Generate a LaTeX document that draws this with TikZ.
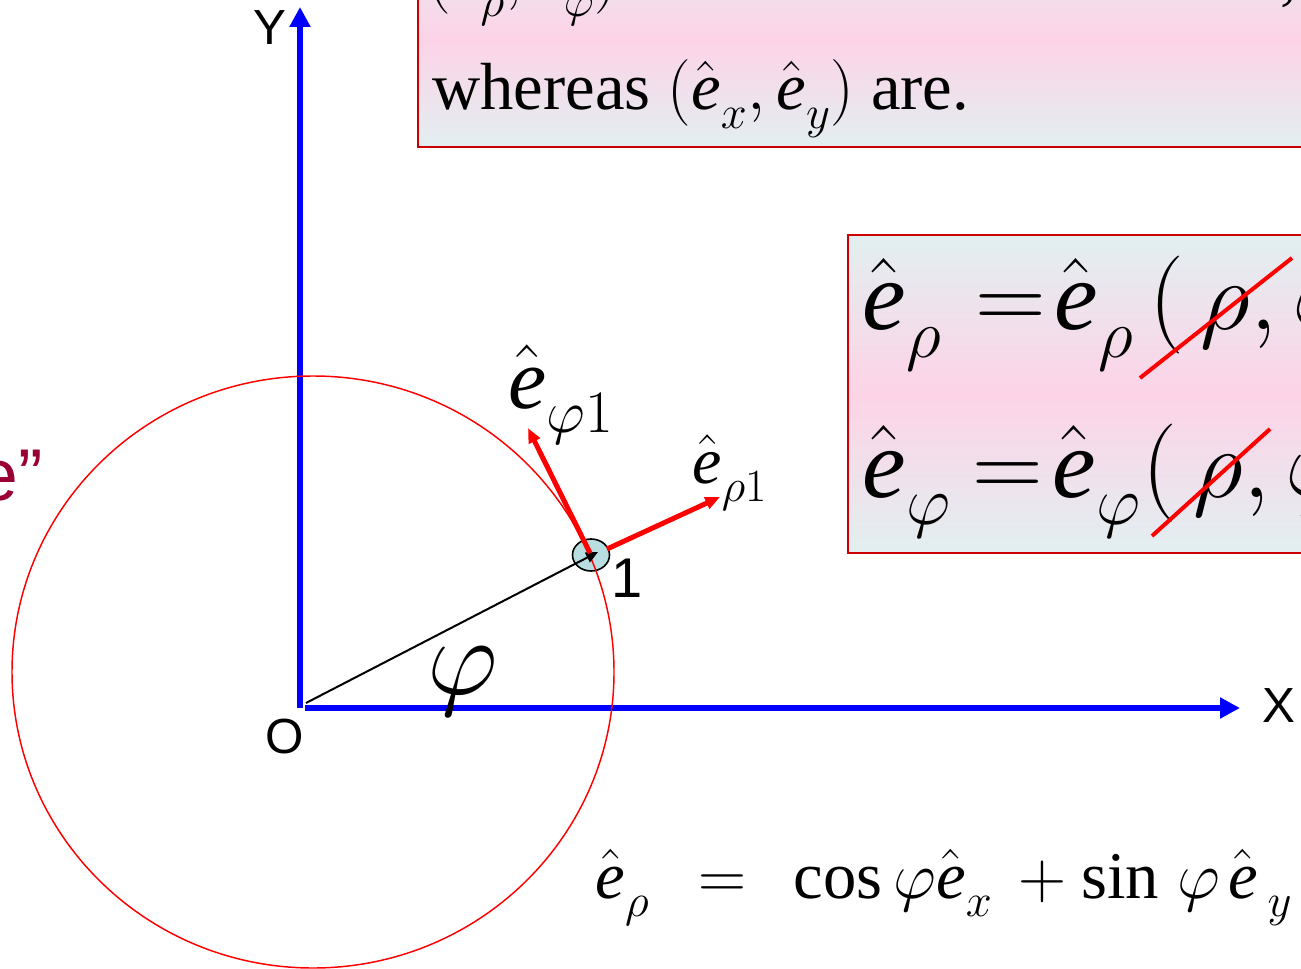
\RequirePackage{fix-cm}
\documentclass[tikz,border=0pt]{standalone}
\usepackage{fontspec}
\setmainfont{Liberation Serif}
\newfontfamily\arialfont{Liberation Sans}
\usetikzlibrary{arrows.meta,positioning}

\definecolor{boxcyan}{RGB}{226,239,241}
\definecolor{boxpink}{RGB}{253,211,231}
\definecolor{boxedge}{RGB}{204,0,0}
\definecolor{darkrose}{RGB}{153,0,51}
\definecolor{pointfill}{RGB}{185,222,226}
\newcommand{\ehat}{\hat{\mbox{\itshape e}}}
\newcommand{\esub}[1]{\ehat_{\lower0.13em\hbox{$\scriptstyle #1$}}}
\newcommand{\fixbox}[2]{\makebox[#1][l]{#2}}

\tikzset{every picture/.style={line width=0.75pt}}
\tikzset{
  axisline/.style={color=blue, line width=4.5pt, -{Triangle[length=15pt,width=15pt]}},
  unitvec/.style={color=red, line width=3.75pt, -{Triangle[length=11pt,width=9pt]}},
  slidebox/.style={draw=boxedge, line width=1.5pt, top color=boxcyan, bottom color=boxcyan, middle color=boxpink},
  strikeout/.style={color=red, line width=3pt},
  axlabel/.style={inner sep=0pt, font=\arialfont\fontsize{37}{40}\selectfont},
  bodytext/.style={inner sep=0pt, anchor=base west, font=\fontsize{50}{60}\selectfont},
  bigeq/.style={inner sep=0pt, anchor=base west, font=\fontsize{73.5}{88}\selectfont}
}

\begin{document}
\begin{tikzpicture}[x=0.75pt,y=0.75pt,yscale=-1,xscale=1]
\useasboundingbox (0,0) rectangle (1301,969);
\clip (0,0) rectangle (1301,969);

%Shape: Rectangle
\draw [slidebox] (418,-70) rectangle (1320,147);
%Shape: Rectangle
\draw [slidebox] (848,235) rectangle (1320,553);

% Text Node
\draw (427,-2) node (rowtop) [bodytext] {$(\esub{\rho},\esub{\varphi})$};
% Text Node
\draw (1280,-2) node (rowcomma) [bodytext] {,};
% Text Node
\draw (432,110) node (rowwhereas) [bodytext] {whereas $(\esub{x},\esub{y})$ are.};

% Text Node
\draw (862,330) node (eqrho) [bigeq] {\fixbox{84.75pt}{$\esub{\rho}$}\fixbox{59.25pt}{$=$}\fixbox{71.25pt}{$\esub{\rho}$}$(\,\rho,\varphi)$};
% Text Node
\draw (862,497) node (eqphi) [bigeq] {\fixbox{82.5pt}{$\esub{\varphi}$}\fixbox{60pt}{$=$}\fixbox{67.5pt}{$\esub{\varphi}$}$(\,\rho,\varphi)$};
%Straight Lines
\draw [strikeout] (1140,378) -- (1292,258) ;
%Straight Lines
\draw [strikeout] (1152,536) -- (1270,429) ;

% Text Node
\draw (595,898) node (eqdecomp) [bodytext] {\fixbox{77.25pt}{$\esub{\rho}$}\fixbox{71.25pt}{$=$}\fixbox{168.75pt}{$\cos\varphi\esub{x}$}\fixbox{47.25pt}{$+$}$\sin\mkern2mu\varphi\mkern2mu\ehat_{\kern0.15em\lower0.13em\hbox{$\scriptstyle y$}}$};

%Coordinates
\coordinate (Ybase) at (300,708);
\coordinate (Ytip) at (300,7);
\coordinate (Xbase) at (305,708);
\coordinate (Xtip) at (1240,708);
\coordinate (ray0) at (306,703);
\coordinate (P1) at (591,555);
\coordinate (P1tip) at (598,552);
\coordinate (rhotail) at (607,549);
\coordinate (rhotip) at (720,497);
\coordinate (phitail) at (590,553);
\coordinate (phitip) at (528,428);

%Straight Lines
\draw [axisline] (Ybase) -- (Ytip) ;
%Straight Lines
\draw [axisline] (Xbase) -- (Xtip) ;

%Shape: Ellipse
\draw [fill=pointfill, line width=1.2pt] (P1) ellipse [x radius=18.5, y radius=16] ;
%Shape: Circle
\draw [color=red, line width=1.1pt] (313,672) ellipse [x radius=301, y radius=296] ;
%Straight Lines
\draw [line width=1.5pt, -{Triangle[length=9pt,width=8pt]}] (ray0) -- (P1tip) ;
%Straight Lines
\draw [unitvec] (rhotail) -- (rhotip) ;
%Straight Lines
\draw [unitvec] (phitail) -- (phitip) ;

% Text Node
\draw (270,28) node (ylabel) [axlabel] {Y};
% Text Node
\draw (1279,706) node (xlabel) [axlabel] {X};
% Text Node
\draw (285,737) node (olabel) [axlabel] {O};
% Text Node
\draw (627,578) node (onelabel) [axlabel, font=\arialfont\fontsize{42}{45}\selectfont] {1};
% Text Node
\draw (43,500) node (eleft) [inner sep=0pt, anchor=base east, text=darkrose, font=\arialfont\fontsize{55}{60}\selectfont] {e”};

% Text Node
\draw (508,408) node (ephilabel) [inner sep=0pt, anchor=base west, font=\fontsize{64.5}{76}\selectfont] {$\esub{\varphi 1}$};
% Text Node
\draw (692,483) node (erholabel) [inner sep=0pt, anchor=base west, font=\fontsize{49.5}{59}\selectfont] {$\esub{\rho 1}$};
% Text Node
\draw (463,694) node (philabel) [inner sep=0pt, anchor=base, font=\fontsize{82.5}{96}\selectfont] {$\varphi$};

\end{tikzpicture}
\end{document}
